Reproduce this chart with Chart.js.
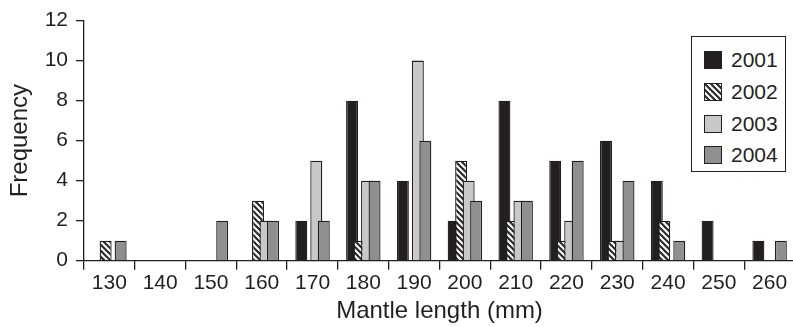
<!DOCTYPE html>
<html>
<head>
<meta charset="utf-8">
<script src="https://cdn.jsdelivr.net/npm/chart.js@4.4.0/dist/chart.umd.min.js"></script>
<style>
  html, body { margin: 0; padding: 0; background: #fff; overflow: hidden; width: 793px; height: 327px; }
  #wrap { position: relative; width: 795px; height: 327px; }
  canvas { display: block; }
  #legend {
    position: absolute; left: 691px; top: 36px; width: 95px; height: 136px;
    border: 1px solid #231f20; box-sizing: border-box; background: #fff;
    font-family: 'Liberation Sans', Arial, sans-serif; font-size: 21px; color: #231f20;
  }
  .item { position: absolute; left: 12px; height: 20px; display: flex; align-items: center; }
  .sw { width: 16px; height: 16px; border: 1px solid #231f20; margin-right: 9px; }
</style>
</head>
<body>
<div id="wrap">
  <canvas id="c" width="795" height="327"></canvas>
  <div id="legend"></div>
</div>
<script>
const categories = ['130','140','150','160','170','180','190','200','210','220','230','240','250','260'];
const seriesNames = ['2001','2002','2003','2004'];
const freq2001 = [0,0,0,0,2,8,4,2,8,5,6,4,2,1];
const freq2002 = [1,0,0,3,0,1,0,5,2,1,1,2,0,0];
const freq2003 = [0,0,0,2,5,4,10,4,3,2,1,0,0,0];
const freq2004 = [1,0,2,2,2,4,6,3,3,5,4,1,0,1];
const yTicks = [0,2,4,6,8,10,12];

const FONT = "'Liberation Sans', Arial, Helvetica, sans-serif";
const INK = '#231f20';

function makeHatch() {
  const c = document.createElement('canvas');
  c.width = 6; c.height = 6;
  const g = c.getContext('2d');
  g.fillStyle = '#ffffff'; g.fillRect(0, 0, 6, 6);
  g.strokeStyle = '#2b2b2b'; g.lineWidth = 2.2;
  g.beginPath();
  for (let k = -2; k <= 2; k++) { g.moveTo(-6, -6 + 6 * k); g.lineTo(12, 12 + 6 * k); }
  g.stroke();
  return c;
}
const hatchCanvas = makeHatch();
const ctx = document.getElementById('c').getContext('2d');
const hatch = ctx.createPattern(hatchCanvas, 'repeat');

const fills = [INK, hatch, '#c8c8c8', '#8f8f8f'];
const legendFills = [INK, 'url(' + hatchCanvas.toDataURL() + ')', '#c8c8c8', '#8f8f8f'];
const seriesData = [freq2001, freq2002, freq2003, freq2004];

// draw datasets first-to-last so that later years overlap earlier ones, as in the original
const drawOrder = {
  id: 'drawOrder',
  beforeDatasetsDraw(chart) {
    const metas = chart.getSortedVisibleDatasetMetas();
    for (const meta of metas) meta.controller.draw();
    return false;
  }
};

const chart = new Chart(ctx, {
  type: 'bar',
  data: {
    labels: categories,
    datasets: seriesNames.map((name, i) => ({
      label: name,
      data: seriesData[i],
      backgroundColor: fills[i],
      borderColor: INK,
      borderWidth: 1.3,
      categoryPercentage: 0.59,
      barPercentage: 1.6
    }))
  },
  options: {
    responsive: false,
    animation: false,
    layout: { padding: { top: 14, right: 0, bottom: 0, left: 0 } },
    plugins: { legend: { display: false }, tooltip: { enabled: false } },
    scales: {
      x: {
        offset: true,
        grid: { display: true, drawOnChartArea: false, drawTicks: true, tickLength: 9, color: INK, lineWidth: 1.3, offset: true },
        border: { display: true, color: INK, width: 1.3 },
        ticks: { color: INK, font: { family: FONT, size: 21 }, padding: 1, maxRotation: 0, autoSkip: false },
        title: { display: true, text: 'Mantle length (mm)', color: INK, font: { family: FONT, size: 24 }, padding: { top: 0, bottom: 1 } },
        afterFit: s => { s.height = 66.3; }
      },
      y: {
        min: yTicks[0],
        max: yTicks[yTicks.length - 1],
        grid: { display: true, drawOnChartArea: false, drawTicks: true, tickLength: 8, color: INK, lineWidth: 1.3 },
        border: { display: true, color: INK, width: 1.3 },
        ticks: { stepSize: yTicks[1] - yTicks[0], color: INK, font: { family: FONT, size: 21 }, padding: 8 },
        title: { display: true, text: 'Frequency', color: INK, font: { family: FONT, size: 24 }, padding: { top: 6, bottom: 0 } },
        afterFit: s => { s.width = 84; }
      }
    }
  },
  plugins: [drawOrder]
});

const legend = document.getElementById('legend');
const tops = [13, 45, 77, 108];
chart.data.datasets.forEach((ds, i) => {
  const item = document.createElement('div');
  item.className = 'item';
  item.style.top = tops[i] + 'px';
  const sw = document.createElement('div');
  sw.className = 'sw';
  sw.style.background = legendFills[i];
  const tx = document.createElement('span');
  tx.textContent = ds.label;
  item.appendChild(sw); item.appendChild(tx);
  legend.appendChild(item);
});
</script>
</body>
</html>
